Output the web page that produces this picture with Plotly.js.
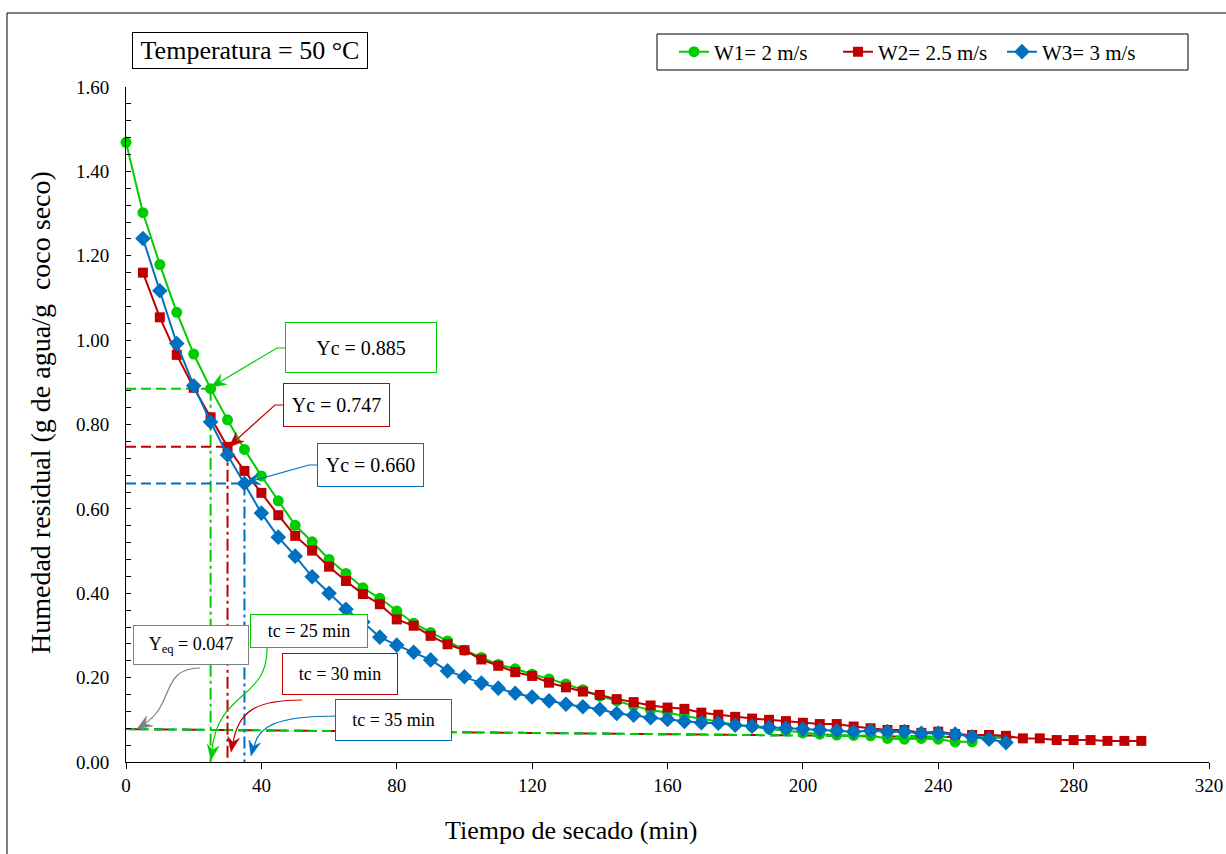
<!DOCTYPE html>
<html><head><meta charset="utf-8">
<script src="https://cdn.plot.ly/plotly-3.0.1.min.js"></script>
<style>html,body{margin:0;padding:0;background:#fff}#chart{width:1226px;height:854px}</style>
</head><body><div id="chart"></div>
<script>
// ---------- data ----------
const tW1 = [0,5,10,15,20,25,30,35,40,45,50,55,60,65,70,75,80,85,90,95,100,105,110,115,120,125,130,135,140,145,150,155,160,165,170,175,180,185,190,195,200,205,210,215,220,225,230,235,240,245,250];
const yW1 = [1.469,1.302,1.179,1.066,0.967,0.885,0.811,0.741,0.678,0.619,0.561,0.522,0.480,0.447,0.413,0.388,0.358,0.329,0.307,0.287,0.265,0.248,0.231,0.221,0.208,0.197,0.185,0.171,0.156,0.145,0.133,0.123,0.117,0.109,0.103,0.096,0.088,0.084,0.078,0.074,0.069,0.066,0.064,0.063,0.062,0.056,0.054,0.056,0.054,0.048,0.048];

const tW2 = [5,10,15,20,25,30,35,40,45,50,55,60,65,70,75,80,85,90,95,100,105,110,115,120,125,130,135,140,145,150,155,160,165,170,175,180,185,190,195,200,205,210,215,220,225,230,235,240,245,250,255,260,265,270,275,280,285,290,295,300];
const yW2 = [1.160,1.054,0.965,0.887,0.817,0.747,0.690,0.638,0.585,0.536,0.501,0.463,0.429,0.398,0.374,0.338,0.323,0.299,0.279,0.265,0.243,0.228,0.213,0.204,0.188,0.177,0.167,0.159,0.149,0.142,0.134,0.129,0.126,0.117,0.112,0.107,0.103,0.100,0.097,0.093,0.090,0.090,0.084,0.080,0.076,0.076,0.069,0.072,0.066,0.064,0.064,0.062,0.056,0.056,0.052,0.052,0.052,0.050,0.050,0.050];

const tW3 = [5,10,15,20,25,30,35,40,45,50,55,60,65,70,75,80,85,90,95,100,105,110,115,120,125,130,135,140,145,150,155,160,165,170,175,180,185,190,195,200,205,210,215,220,225,230,235,240,245,250,255,260];
const yW3 = [1.241,1.117,0.992,0.892,0.806,0.728,0.660,0.590,0.533,0.488,0.439,0.400,0.362,0.332,0.296,0.277,0.260,0.242,0.216,0.202,0.187,0.175,0.163,0.154,0.145,0.137,0.131,0.125,0.115,0.111,0.105,0.101,0.096,0.093,0.092,0.087,0.085,0.082,0.080,0.078,0.076,0.074,0.072,0.074,0.072,0.072,0.068,0.068,0.066,0.060,0.054,0.046];

const seriesNames = ['W1= 2 m/s', 'W2= 2.5 m/s', 'W3= 3 m/s'];
const tc = [25, 30, 35];            // critical times (min)
const Yc = [0.885, 0.747, 0.660];   // critical moisture
const eqT = [0, 262];               // equilibrium line extent
const eqY = [0.078, 0.058];
const Yeq = 0.047;

const xTicks = [0,40,80,120,160,200,240,280,320];
const yTicks = [0,0.2,0.4,0.6,0.8,1.0,1.2,1.4,1.6];

// ---------- styling ----------
const colors = ['#00CC00', '#C00000', '#0070C0'];
const symbols = ['circle', 'square', 'diamond'];
const msize = [11, 10, 12];
const FONT = 'Liberation Serif, Times New Roman, serif';

// plot-area geometry (pixels) used for decorations only
const L = 126, R = 1209, T = 87, B = 762;
const X = px => (px - L) / (R - L) * 320;
const Y = py => (B - py) / (B - T) * 1.6;
const PX = px => (px - L) / (R - L);
const PY = py => (B - py) / (B - T);
const P = (px, py) => X(px) + ',' + Y(py);

const traces = [];
// equilibrium dashed lines
[1, 2, 0].forEach(i => {
  traces.push({x: eqT, y: eqY, mode: 'lines', showlegend: false, hoverinfo: 'skip',
    line: {color: colors[i], width: 2, dash: i === 0 ? '9px,5px' : (i === 1 ? '14px,14px' : '7px,7px')}});
});
// Yc horizontal dashed and tc vertical dash-dot lines
tc.forEach((t, i) => {
  traces.push({x: [0, t], y: [Yc[i], Yc[i]], mode: 'lines', showlegend: false, hoverinfo: 'skip',
    line: {color: colors[i], width: 2, dash: '10px,5px'}});
  traces.push({x: [t, t], y: [Yc[i], 0], mode: 'lines', showlegend: false, hoverinfo: 'skip',
    line: {color: colors[i], width: 2, dash: '12px,4px,3px,4px'}});
});
// data series
[[tW1, yW1], [tW2, yW2], [tW3, yW3]].forEach((d, i) => {
  traces.push({x: d[0], y: d[1], name: seriesNames[i], mode: 'lines+markers', cliponaxis: false,
    line: {color: colors[i], width: 2},
    marker: {symbol: symbols[i], size: msize[i], color: colors[i]}});
});

// ---------- decorations ----------
const shapes = [];
const annotations = [];
// outer frame
shapes.push({type: 'rect', xref: 'paper', yref: 'paper', x0: PX(7), x1: PX(1240), y0: PY(880), y1: PY(13),
  line: {color: 'black', width: 1}});
// legend frame
shapes.push({type: 'rect', xref: 'paper', yref: 'paper', x0: PX(657), x1: PX(1188), y0: PY(70), y1: PY(34),
  line: {color: 'black', width: 1}, fillcolor: 'rgba(0,0,0,0)'});

function box(text, cx, cy, w, h, color, size) {
  annotations.push({xref: 'x', yref: 'y', x: X(cx), y: Y(cy), xanchor: 'center', yanchor: 'middle',
    text: text, showarrow: false,
    width: w - 2, height: h - 2, borderpad: 0, borderwidth: 1, bordercolor: color, bgcolor: 'white',
    align: 'center', valign: 'middle', font: {family: FONT, size: size, color: 'black'}});
}
function path(d, color) {
  shapes.push({type: 'path', xref: 'x', yref: 'y', path: d, line: {color: color, width: 1.2}});
}
// stealth-style arrowhead, tip at (tx,ty) pixels, direction (dx,dy) pointing to the tip
function head(tx, ty, dx, dy, color) {
  const n = Math.hypot(dx, dy), ux = dx / n, uy = dy / n, vx = -uy, vy = ux;
  const len = 15, hw = 6, notch = 10;
  const d = 'M' + P(tx, ty) +
    ' L' + P(tx - ux * len + vx * hw, ty - uy * len + vy * hw) +
    ' L' + P(tx - ux * notch, ty - uy * notch) +
    ' L' + P(tx - ux * len - vx * hw, ty - uy * len - vy * hw) + ' Z';
  shapes.push({type: 'path', xref: 'x', yref: 'y', path: d, line: {color: color, width: 0.5}, fillcolor: color});
}
// Yc connectors
path('M' + P(285, 348) + ' L' + P(277, 348) + ' L' + P(218, 383), colors[0]);
head(211, 387, -66, 39, colors[0]);
path('M' + P(283, 405) + ' L' + P(275, 405) + ' L' + P(235, 441), colors[1]);
head(229, 447, -46, 42, colors[1]);
path('M' + P(317, 465) + ' L' + P(309, 465) + ' L' + P(252, 481), colors[2]);
head(245, 483, -64, 18, colors[2]);
// curved connectors
path('M' + P(200, 668) + ' C' + P(160, 668) + ' ' + P(175, 705) + ' ' + P(144, 724), '#808080');
head(137, 729, -38, 24, '#808080');
path('M' + P(267, 648) + ' C' + P(268, 700) + ' ' + P(218, 690) + ' ' + P(212, 750), colors[0]);
head(211, 760, -3, 20, colors[0]);
path('M' + P(302, 700) + ' C' + P(255, 700) + ' ' + P(238, 712) + ' ' + P(233, 743), colors[1]);
head(231, 752, -7, 40, colors[1]);
path('M' + P(337, 716) + ' C' + P(272, 716) + ' ' + P(258, 728) + ' ' + P(254, 747), colors[2]);
head(251, 756, -7, 28, colors[2]);

box('Yc = ' + Yc[0].toFixed(3), 361, 347.5, 152, 51, colors[0], 20);
box('Yc = ' + Yc[1].toFixed(3), 336.5, 405, 107, 44, colors[1], 20);
box('Yc = ' + Yc[2].toFixed(3), 370.5, 465, 107, 44, colors[2], 20);
box('Y<sub>eq</sub> = ' + Yeq.toFixed(3), 191, 645, 116, 40, '#808080', 18);
box('tc = ' + tc[0] + ' min', 309, 631, 118, 34, colors[0], 18);
box('tc = ' + tc[1] + ' min', 340, 674, 116, 42, colors[1], 18);
box('tc = ' + tc[2] + ' min', 393.5, 720, 117, 42, colors[2], 18);

// temperature label
annotations.push({xref: 'paper', yref: 'paper', x: PX(250), y: PY(50.5), xanchor: 'center', yanchor: 'middle',
  text: 'Temperatura = 50 °C',
  showarrow: false, width: 234, height: 35, borderpad: 0, borderwidth: 1, bordercolor: 'black',
  bgcolor: 'white', font: {family: FONT, size: 26, color: 'black'}});
// axis titles
annotations.push({xref: 'paper', yref: 'paper', x: PX(571), y: PY(830), xanchor: 'center', yanchor: 'middle',
  text: 'Tiempo de secado (min)', showarrow: false, font: {family: FONT, size: 26, color: 'black'}});
annotations.push({xref: 'paper', yref: 'paper', x: PX(40), y: PY(413), xanchor: 'center', yanchor: 'middle',
  textangle: -90, text: 'Humedad residual (g de agua/g  coco seco)', showarrow: false,
  font: {family: FONT, size: 28, color: 'black'}});

const layout = {
  width: 1226, height: 854,
  margin: {l: L, r: 1226 - R, t: T, b: 854 - B},
  paper_bgcolor: 'white', plot_bgcolor: 'white',
  font: {family: FONT, color: 'black'},
  showlegend: true,
  legend: {orientation: 'h', x: PX(674), xanchor: 'left', y: PY(52), yanchor: 'middle',
    bgcolor: 'rgba(0,0,0,0)', borderwidth: 0, font: {family: FONT, size: 21, color: 'black'},
    entrywidth: 119, entrywidthmode: 'pixels', traceorder: 'normal'},
  xaxis: {range: [0, 320], tickvals: xTicks, ticks: 'outside', ticklen: 6, tickwidth: 1, tickcolor: 'black',
    showline: true, linecolor: 'black', linewidth: 1, showgrid: false, zeroline: false, automargin: false,
    tickfont: {family: FONT, size: 19, color: 'black'}},
  yaxis: {range: [0, 1.6], tickvals: yTicks, tickformat: '.2f', ticks: 'inside', ticklen: 5, tickwidth: 1,
    tickcolor: 'black', showline: true, linecolor: 'black', linewidth: 1, showgrid: false, zeroline: false,
    automargin: false, ticklabelstandoff: 12,
    minor: {dtick: 0.04, tick0: 0, ticks: 'inside', ticklen: 5, tickwidth: 1, tickcolor: 'black', showgrid: false},
    tickfont: {family: FONT, size: 19, color: 'black'}},
  shapes: shapes,
  annotations: annotations
};

Plotly.newPlot('chart', traces, layout, {displayModeBar: false, staticPlot: true});
</script>
</body></html>
